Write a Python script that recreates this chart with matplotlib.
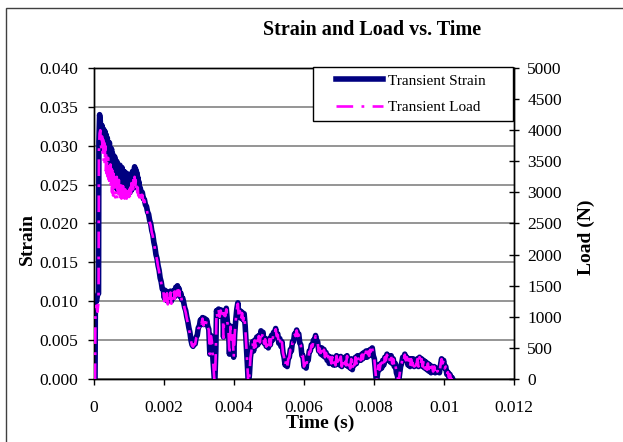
import numpy as np
import matplotlib
matplotlib.use("Agg")
import matplotlib.pyplot as plt
from matplotlib.patches import Rectangle
from matplotlib.legend_handler import HandlerLine2D

plt.rcParams['font.family'] = ['Liberation Serif', 'DejaVu Serif']
plt.rcParams['lines.scale_dashes'] = False

# ---- data ----
time_ms = [
    0.00, 0.03, 0.04, 0.07, 0.10, 0.13, 0.14, 0.16, 0.18, 0.20,
    0.215, 0.23, 0.245, 0.26, 0.275, 0.29, 0.305, 0.32, 0.335, 0.35,
    0.365, 0.38, 0.395, 0.41, 0.425, 0.44, 0.455, 0.47, 0.485, 0.50,
    0.515, 0.53, 0.545, 0.56, 0.575, 0.59, 0.605, 0.62, 0.635, 0.65,
    0.665, 0.68, 0.695, 0.71, 0.725, 0.74, 0.755, 0.77, 0.785, 0.80,
    0.815, 0.83, 0.845, 0.86, 0.875, 0.89, 0.905, 0.92, 0.935, 0.95,
    0.965, 0.98, 0.995, 1.01, 1.025, 1.04, 1.055, 1.07, 1.085, 1.10,
    1.115, 1.13, 1.145, 1.16, 1.175, 1.19, 1.205, 1.22, 1.235, 1.25,
    1.265, 1.28, 1.295, 1.32, 1.35, 1.38, 1.41, 1.44, 1.47, 1.50,
    1.53, 1.56, 1.59, 1.62, 1.65, 1.68, 1.71, 1.74, 1.77, 1.80,
    1.83, 1.86, 1.89, 1.92, 1.95, 1.98, 2.01, 2.035, 2.06, 2.085,
    2.11, 2.135, 2.16, 2.185, 2.21, 2.235, 2.26, 2.285, 2.31, 2.335,
    2.36, 2.385, 2.41, 2.435, 2.46, 2.485, 2.51, 2.535, 2.56, 2.59,
    2.62, 2.65, 2.68, 2.71, 2.74, 2.77, 2.80, 2.83, 2.86, 2.89,
    2.92, 2.95, 2.98, 3.01, 3.04, 3.07, 3.10, 3.13, 3.16, 3.19,
    3.22, 3.25, 3.28, 3.31, 3.34, 3.37, 3.40, 3.43, 3.45, 3.48,
    3.50, 3.53, 3.56, 3.59, 3.62, 3.65, 3.68, 3.70, 3.72, 3.75,
    3.78, 3.81, 3.84, 3.87, 3.90, 3.93, 3.96, 3.99, 4.02, 4.05,
    4.08, 4.11, 4.14, 4.17, 4.20, 4.23, 4.26, 4.29, 4.32, 4.35,
    4.38, 4.41, 4.44, 4.47, 4.50, 4.53, 4.56, 4.59, 4.62, 4.65,
    4.68, 4.71, 4.74, 4.77, 4.80, 4.83, 4.86, 4.89, 4.92, 4.95,
    4.98, 5.01, 5.04, 5.07, 5.10, 5.13, 5.16, 5.19, 5.22, 5.25,
    5.28, 5.31, 5.34, 5.37, 5.40, 5.43, 5.46, 5.49, 5.52, 5.55,
    5.58, 5.61, 5.64, 5.67, 5.70, 5.73, 5.76, 5.79, 5.82, 5.85,
    5.88, 5.91, 5.94, 5.97, 6.00, 6.03, 6.06, 6.09, 6.12, 6.15,
    6.18, 6.21, 6.24, 6.27, 6.30, 6.33, 6.36, 6.39, 6.42, 6.45,
    6.48, 6.51, 6.54, 6.57, 6.60, 6.63, 6.66, 6.69, 6.72, 6.75,
    6.78, 6.81, 6.84, 6.87, 6.90, 6.93, 6.96, 6.99, 7.02, 7.05,
    7.08, 7.11, 7.14, 7.17, 7.20, 7.23, 7.26, 7.29, 7.32, 7.35,
    7.38, 7.41, 7.44, 7.47, 7.50, 7.53, 7.56, 7.59, 7.62, 7.65,
    7.68, 7.71, 7.74, 7.77, 7.80, 7.83, 7.86, 7.89, 7.92, 7.95,
    7.98, 8.01, 8.04, 8.07, 8.10, 8.13, 8.16, 8.19, 8.22, 8.25,
    8.28, 8.31, 8.34, 8.37, 8.40, 8.43, 8.46, 8.49, 8.52, 8.55,
    8.58, 8.61, 8.64, 8.67, 8.70, 8.73, 8.76, 8.79, 8.82, 8.85,
    8.88, 8.91, 8.94, 8.97, 9.00, 9.03, 9.06, 9.09, 9.12, 9.15,
    9.18, 9.21, 9.24, 9.27, 9.30, 9.33, 9.36, 9.39, 9.42, 9.45,
    9.48, 9.51, 9.54, 9.57, 9.60, 9.63, 9.66, 9.69, 9.72, 9.75,
    9.78, 9.81, 9.84, 9.87, 9.90, 9.93, 9.96, 9.99, 10.02, 10.05,
    10.08, 10.11, 10.14, 10.17, 10.20, 10.23, 10.25]

strain_e3 = [
    0.0, 0.0, 10.5, 10.0, 10.8, 11.0, 30.5, 34.0, 33.2, 31.0,
    30.2, 32.6, 29.8, 32.2, 29.6, 32.0, 29.4, 31.8, 29.2, 31.4,
    28.8, 31.0, 28.2, 29.6, 27.6, 30.4, 27.0, 29.2, 26.6, 29.6,
    26.2, 29.0, 25.6, 28.0, 25.2, 28.6, 24.8, 27.6, 24.6, 28.0,
    24.4, 27.6, 24.2, 27.0, 24.0, 27.5, 24.0, 26.8, 23.9, 27.2,
    23.9, 26.8, 23.8, 26.2, 23.8, 26.6, 23.8, 26.0, 23.8, 26.4,
    23.8, 26.2, 23.9, 25.8, 24.0, 26.3, 24.2, 26.0, 24.4, 26.7,
    24.6, 26.6, 24.8, 27.3, 25.0, 27.0, 24.9, 26.6, 24.6, 26.0,
    24.4, 25.4, 24.4, 24.6, 23.9, 24.0, 23.2, 23.1, 22.4, 22.2,
    21.5, 21.2, 20.4, 20.0, 19.1, 18.6, 17.6, 17.0, 16.0, 15.5,
    14.6, 14.0, 13.0, 12.5, 11.6, 11.5, 10.4, 11.4, 10.2, 11.2,
    10.0, 11.0, 10.2, 11.3, 10.0, 11.0, 10.4, 11.4, 10.6, 11.8,
    11.0, 12.0, 11.0, 11.6, 10.6, 11.0, 10.2, 10.4, 9.9, 9.2,
    8.8, 8.0, 7.4, 6.6, 6.0, 5.0, 4.4, 4.2, 4.6, 4.5,
    5.4, 5.6, 6.6, 6.8, 7.6, 7.2, 7.9, 7.0, 7.8, 7.1,
    7.6, 6.8, 6.4, 3.2, 5.6, 4.8, 2.4, 0.5, -0.8, 3.5,
    8.8, 8.0, 9.0, 8.1, 8.9, 8.2, 8.8, 5.4, 8.5, 8.2,
    9.1, 7.4, 6.6, 3.2, 6.8, 5.2, 6.2, 2.8, 5.8, 7.6,
    9.0, 9.8, 8.0, 8.8, 7.8, 8.6, 7.6, 8.4, 6.8, 4.4,
    2.0, -0.8, 0.5, 2.8, 3.8, 4.8, 3.6, 5.0, 4.2, 5.4,
    4.4, 5.6, 4.8, 6.2, 5.6, 6.0, 4.6, 5.2, 4.2, 5.0,
    4.0, 5.2, 4.4, 5.6, 5.0, 6.0, 5.8, 6.5, 5.6, 5.8,
    4.6, 5.2, 4.2, 4.8, 3.4, 2.8, 1.8, 2.4, 1.6, 2.6,
    2.8, 3.8, 3.6, 4.8, 4.8, 5.8, 5.6, 6.3, 5.6, 5.8,
    4.6, 4.4, 3.0, 3.0, 1.6, 2.0, 1.4, 2.6, 2.4, 3.6,
    3.6, 4.4, 4.2, 5.0, 4.8, 5.6, 5.0, 4.8, 3.6, 4.0,
    3.2, 4.0, 3.0, 3.8, 2.8, 3.4, 2.4, 3.0, 2.0, 2.8,
    2.0, 2.8, 1.8, 2.6, 1.8, 3.0, 2.0, 2.8, 1.8, 2.9,
    1.6, 2.6, 2.0, 2.8, 1.8, 3.0, 1.6, 2.4, 1.4, 2.6,
    1.2, 2.4, 1.8, 2.8, 2.0, 3.0, 2.4, 3.0, 2.4, 3.2,
    2.6, 3.4, 2.8, 3.6, 2.8, 3.6, 3.0, 3.8, 3.2, 4.0,
    3.0, 2.6, 1.0, -0.5, 0.6, 1.8, 1.2, 2.0, 1.4, 2.4,
    1.8, 2.8, 2.4, 3.2, 2.6, 3.0, 2.2, 3.0, 2.0, 2.6,
    1.6, 2.0, 0.8, 0.4, -0.5, 0.6, 1.6, 2.0, 2.8, 2.4,
    3.2, 2.4, 2.8, 1.8, 2.6, 1.6, 2.6, 1.8, 2.6, 1.6,
    2.4, 1.8, 2.6, 1.6, 2.8, 1.8, 2.6, 1.6, 2.4, 1.4,
    2.2, 1.2, 2.0, 1.0, 1.8, 0.8, 1.6, 1.0, 1.6, 0.8,
    1.4, 1.0, 1.2, 0.8, 1.8, 2.6, 2.0, 2.4, 1.4, 1.6,
    0.6, 0.9, 0.2, 0.6, 0.0, 0.2, 0.0]

load_N = [
    0, 0, 1000, 1180, 1080, 1250, 3650, 3950, 4000, 3750,
    3700, 3900, 3600, 3850, 3500, 3800, 3450, 3750, 3350, 3650,
    3300, 3600, 3250, 3550, 3200, 3500, 3100, 3450, 3050, 3400,
    3000, 3350, 2950, 3300, 2950, 3250, 2920, 3200, 2950, 3250,
    2900, 3150, 2920, 3200, 2900, 3100, 2920, 3150, 2900, 3100,
    2900, 3100, 2880, 3050, 2900, 3050, 2880, 3050, 2900, 3020,
    2880, 3000, 2900, 3050, 2920, 3080, 2950, 3150, 3000, 3200,
    3050, 3250, 3100, 3250, 3120, 3200, 3050, 3150, 3000, 3080,
    2950, 3020, 2920, 3020, 2920, 2960, 2860, 2870, 2760, 2750,
    2650, 2620, 2520, 2470, 2360, 2300, 2180, 2100, 1990, 1920,
    1810, 1730, 1610, 1550, 1440, 1420, 1250, 1400, 1230, 1380,
    1200, 1350, 1230, 1390, 1210, 1340, 1260, 1400, 1290, 1450,
    1340, 1480, 1350, 1420, 1290, 1350, 1250, 1270, 1210, 1130,
    1070, 980, 900, 810, 730, 620, 540, 520, 560, 560,
    660, 690, 810, 830, 930, 890, 970, 860, 960, 870,
    940, 830, 790, 400, 690, 600, 300, 60, -100, 430,
    1080, 990, 1110, 1000, 1100, 1010, 1090, 660, 1050, 1010,
    1120, 910, 810, 390, 840, 640, 760, 340, 720, 940,
    1110, 1210, 980, 1090, 960, 1060, 940, 1030, 840, 540,
    250, -100, 60, 340, 470, 590, 440, 620, 520, 660,
    540, 690, 590, 760, 690, 740, 570, 640, 520, 620,
    490, 640, 540, 690, 620, 740, 710, 800, 690, 710,
    570, 640, 520, 590, 420, 350, 220, 300, 200, 320,
    350, 470, 440, 590, 590, 710, 690, 780, 690, 710,
    570, 540, 370, 370, 200, 250, 170, 320, 300, 440,
    440, 540, 520, 620, 590, 690, 620, 590, 440, 490,
    390, 490, 370, 470, 350, 420, 300, 370, 250, 350,
    250, 350, 220, 320, 220, 370, 250, 350, 220, 360,
    200, 320, 250, 350, 220, 370, 200, 300, 170, 320,
    150, 300, 220, 350, 250, 370, 300, 370, 300, 390,
    320, 420, 350, 440, 350, 440, 370, 470, 390, 490,
    370, 320, 120, -60, 70, 220, 150, 250, 170, 300,
    220, 350, 300, 390, 320, 370, 270, 370, 250, 320,
    200, 250, 100, 50, -60, 70, 200, 250, 350, 300,
    390, 300, 350, 220, 320, 200, 320, 220, 320, 200,
    300, 220, 320, 200, 350, 220, 320, 200, 300, 170,
    270, 150, 250, 120, 220, 100, 200, 120, 200, 100,
    170, 120, 150, 100, 220, 320, 250, 300, 170, 200,
    70, 110, 25, 70, 0, 25, 0]

x_ticks = [0, 0.002, 0.004, 0.006, 0.008, 0.010, 0.012]
x_tick_labels = ["0", "0.002", "0.004", "0.006", "0.008", "0.01", "0.012"]
strain_ticks = [0.000, 0.005, 0.010, 0.015, 0.020, 0.025, 0.030, 0.035, 0.040]
load_ticks = [0, 500, 1000, 1500, 2000, 2500, 3000, 3500, 4000, 4500, 5000]

t_s = np.array(time_ms) / 1000.0
strain = np.array(strain_e3) / 1000.0
load = np.array(load_N, dtype=float)

W, H = 623, 442
fig = plt.figure(figsize=(W / 100, H / 100), dpi=100)
fig.patch.set_facecolor('white')

# outer chart frame
fig.patches.append(Rectangle((6 / W, -0.05), 1.2, 1 - 8 / H + 0.05,
                             transform=fig.transFigure, fill=False,
                             edgecolor='#404040', linewidth=1.0, clip_on=False))

L, R, T, B = 94, 514, 68, 379
ax = fig.add_axes([L / W, 1 - B / H, (R - L) / W, (B - T) / H])
ax2 = ax.twinx()

navy = '#000080'
mag = '#FF00FF'

l1, = ax.plot(t_s, strain, color=navy, lw=4.0, solid_joinstyle='round',
              label='Transient Strain', zorder=3)
l2, = ax2.plot(t_s, load, color=mag, lw=1.9, dashes=(12, 6, 2, 6),
               label='Transient Load', zorder=3)

ax.set_xlim(0, 0.012)
ax.set_ylim(0, 0.040)
ax2.set_ylim(0, 5000)

ax.set_xticks(x_ticks)
ax.set_xticklabels(x_tick_labels)
ax.set_yticks(strain_ticks)
ax.set_yticklabels([f"{v:.3f}" for v in strain_ticks])
ax2.set_yticks(load_ticks)
ax2.set_yticklabels([str(v) for v in load_ticks])

ax.yaxis.grid(True, color='#8c8c8c', lw=1.3)
ax.set_axisbelow(True)

ax.tick_params(axis='y', direction='out', length=4.5, width=1, labelsize=12.5,
               pad=7, colors='black')
ax.tick_params(axis='x', direction='out', length=4, width=1, labelsize=12.5,
               pad=11, colors='black')
ax2.tick_params(axis='y', direction='inout', length=7, width=1, labelsize=12.5,
                pad=6, colors='black')

for a in (ax, ax2):
    for s in a.spines.values():
        s.set_color('black')
        s.set_linewidth(1.0)

# titles / labels
fig.text(372 / W, 1 - 30 / H, 'Strain and Load vs. Time', ha='center',
         va='center', fontsize=14.5, fontweight='bold')
fig.text(27.5 / W, 1 - 239 / H, 'Strain', rotation=90, ha='center',
         va='center', fontsize=14, fontweight='bold')
fig.text(586 / W, 1 - 237 / H, 'Load (N)', rotation=90, ha='center',
         va='center', fontsize=14, fontweight='bold')
fig.text(320 / W, 1 - 423 / H, 'Time (s)', ha='center', va='center',
         fontsize=14, fontweight='bold')

# legend
leg = ax2.legend(handles=[l1, l2], loc='upper left',
                 bbox_to_anchor=(313 / W, 1 - 124 / H, 200 / W, 57 / H),
                 bbox_transform=fig.transFigure, mode='expand',
                 borderaxespad=0, fontsize=11, frameon=True, fancybox=False,
                 edgecolor='black', framealpha=1, borderpad=0.45,
                 labelspacing=0.85, handlelength=4.1, handletextpad=0.35,
                 handler_map={l1: HandlerLine2D(xpad=1.05),
                              l2: HandlerLine2D(xpad=1.05)})
leg.get_frame().set_linewidth(1.0)
leg.set_zorder(10)

fig.savefig('out.png', dpi=100, facecolor='white')
